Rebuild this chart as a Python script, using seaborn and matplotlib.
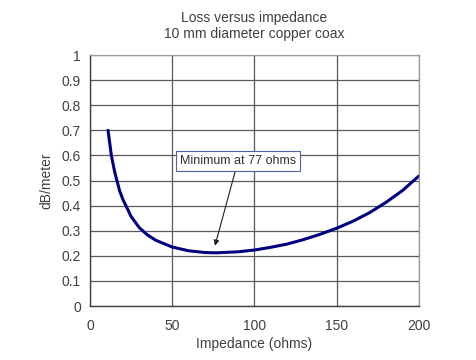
import pandas as pd
import matplotlib
matplotlib.use("Agg")
import matplotlib.pyplot as plt
import seaborn as sns

# values
impedance = [11, 13, 15, 18, 20, 25, 30, 35, 40, 50, 60, 70, 77, 90, 100, 110, 120, 130, 140, 150, 160, 170, 180, 190, 200]
loss = [0.70, 0.60, 0.535, 0.46, 0.425, 0.357, 0.312, 0.283, 0.262, 0.235, 0.220, 0.213, 0.212, 0.216, 0.223, 0.234, 0.247, 0.265, 0.286, 0.310, 0.338, 0.372, 0.413, 0.460, 0.518]

xticks = [0, 50, 100, 150, 200]
yticks = [0, 0.1, 0.2, 0.3, 0.4, 0.5, 0.6, 0.7, 0.8, 0.9, 1]
ytick_labels = ["0", "0.1", "0.2", "0.3", "0.4", "0.5", "0.6", "0.7", "0.8", "0.9", "1"]

df = pd.DataFrame({"impedance": impedance, "loss": loss})

sns.set_style("white")
plt.rcParams['font.family'] = ['Liberation Sans', 'DejaVu Sans']

fig = plt.figure(figsize=(4.76, 3.6), dpi=100)
ax = fig.add_axes([0.189, 0.15, 0.691, 0.697])

sns.lineplot(data=df, x="impedance", y="loss", color="#000080", linewidth=2.2, ax=ax)

ax.set_xlim(0, 200)
ax.set_ylim(0, 1)
ax.set_xticks(xticks)
ax.set_yticks(yticks)
ax.set_yticklabels(ytick_labels)
ax.grid(True, color="#5a5a5a", linewidth=0.9)
ax.set_axisbelow(True)

for side in ["top", "right"]:
    ax.spines[side].set_color("#9a9a9a")
    ax.spines[side].set_linewidth(0.9)
for side in ["left", "bottom"]:
    ax.spines[side].set_color("#404040")
    ax.spines[side].set_linewidth(1.0)

ax.tick_params(axis="both", direction="inout", length=5, width=1, color="#404040",
               labelsize=10, labelcolor="#404040", pad=4)
ax.tick_params(axis="x", pad=7)

ax.set_xlabel("Impedance (ohms)", fontsize=10, color="#404040", labelpad=3)
ax.set_ylabel("dB/meter", fontsize=10, color="#404040", labelpad=6)
ax.set_title("Loss versus impedance\n10 mm diameter copper coax", fontsize=10,
             color="#404040", pad=12, linespacing=1.25)

ax.annotate("Minimum at 77 ohms", xy=(76, 0.24), xytext=(90, 0.577),
            fontsize=9, color="#303030", ha="center", va="center",
            bbox=dict(boxstyle="square,pad=0.3", fc="white", ec="#5060a0", lw=0.8),
            arrowprops=dict(arrowstyle="-|>", color="#202020", lw=0.8,
                            mutation_scale=8, shrinkA=0, shrinkB=0))

fig.savefig("out.png", dpi=100)
